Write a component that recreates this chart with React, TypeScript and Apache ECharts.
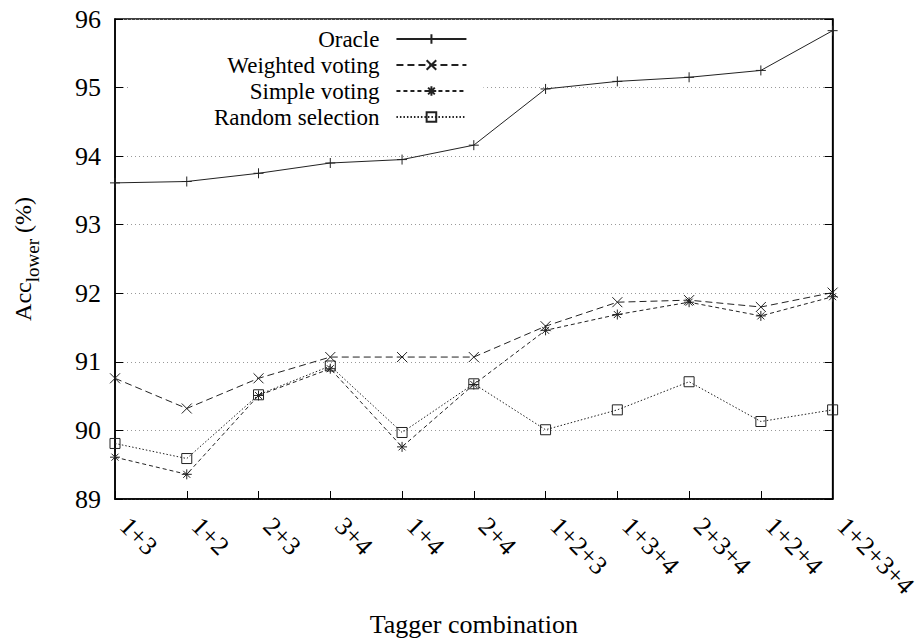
import React, { useEffect, useRef } from "react";
import * as echarts from "echarts";

const categories = ["1+3", "1+2", "2+3", "3+4", "1+4", "2+4", "1+2+3", "1+3+4", "2+3+4", "1+2+4", "1+2+3+4"];
const oracle = [93.61, 93.63, 93.75, 93.9, 93.95, 94.16, 94.98, 95.09, 95.15, 95.25, 95.83];
const weighted = [90.76, 90.32, 90.76, 91.07, 91.07, 91.07, 91.52, 91.87, 91.9, 91.8, 92.01];
const simple = [89.61, 89.36, 90.51, 90.9, 89.76, 90.67, 91.46, 91.69, 91.87, 91.67, 91.95];
const randomSel = [89.81, 89.59, 90.52, 90.94, 89.97, 90.68, 90.01, 90.3, 90.71, 90.13, 90.3];

const FONT = "serif";
const FS = 26;
const INK = "#222";

const SYM_PLUS = "path://M5,0L5,10M0,5L10,5";
const SYM_X = "path://M0,0L10,10M10,0L0,10";
const SYM_STAR = "path://M5,0L5,10M0,5L10,5M1.5,1.5L8.5,8.5M8.5,1.5L1.5,8.5";
const SYM_SQ = "path://M0,0L10,0L10,10L0,10Z";

function mkSeries(name: string, data: number[], symbol: string, size: number, type: any) {
  return {
    name,
    type: "line",
    data,
    symbol,
    symbolSize: size,
    showAllSymbol: true,
    lineStyle: { color: INK, width: 1, type },
    itemStyle: { color: "transparent", borderColor: INK, borderWidth: 1 },
    emphasis: { disabled: true },
  };
}

export default function App() {
  const ref = useRef<HTMLDivElement>(null);
  useEffect(() => {
    document.body.style.margin = "0";
    const chart = echarts.init(ref.current!, null, { renderer: "svg" });
    chart.setOption({
      animation: false,
      backgroundColor: "#fff",
      textStyle: { fontFamily: FONT },
      grid: {
        left: 115,
        right: 73,
        top: 19,
        bottom: 132,
        show: true,
        borderColor: "#000",
        borderWidth: 1.5,
        backgroundColor: "transparent",
      },
      legend: {
        orient: "vertical",
        align: "right",
        left: 130,
        top: 23,
        padding: [3, 16, 6, 84],
        backgroundColor: "#fff",
        itemWidth: 70,
        itemHeight: 12,
        itemGap: 0,
        textStyle: { fontFamily: FONT, fontSize: 23, lineHeight: 26, color: "#000", padding: [0, 12, 0, 0] },
        data: ["Oracle", "Weighted voting", "Simple voting", "Random selection"],
      },
      xAxis: {
        type: "category",
        data: categories,
        boundaryGap: false,
        name: "Tagger combination",
        nameLocation: "middle",
        nameGap: 112,
        nameTextStyle: { fontFamily: FONT, fontSize: FS, color: "#000" },
        axisLine: { lineStyle: { color: "#000", width: 1.5 } },
        axisTick: { inside: true, length: 8, lineStyle: { color: "#000" } },
        axisLabel: {
          rotate: -45,
          fontFamily: FONT,
          fontSize: FS,
          color: "#000",
          margin: 32,
          verticalAlign: "bottom",
          interval: 0,
        },
        splitLine: { show: false },
      },
      yAxis: [
        {
          type: "value",
          min: 89,
          max: 96,
          interval: 1,
          name: "{a|Acc}{b|lower}{a| (%)}",
          nameLocation: "middle",
          nameGap: 80,
          nameRotate: 90,
          nameTextStyle: {
            rich: {
              a: { fontFamily: FONT, fontSize: 24, color: "#000", lineHeight: 30, verticalAlign: "bottom" },
              b: { fontFamily: FONT, fontSize: 19, color: "#000", lineHeight: 19, verticalAlign: "bottom", padding: [0, 0, -7, 0] },
            },
          },
          axisLine: { show: true, lineStyle: { color: "#000", width: 1.5 } },
          axisTick: { show: true, inside: true, length: 8, lineStyle: { color: "#000" } },
          axisLabel: { fontFamily: FONT, fontSize: FS, color: "#000", margin: 14 },
          splitLine: {
            show: true,
            lineStyle: { color: "#999", type: [1, 3], width: 1 },
          },
        },
        {
          type: "value",
          min: 89,
          max: 96,
          interval: 1,
          position: "right",
          axisLine: { show: true, lineStyle: { color: "#000", width: 1.5 } },
          axisTick: { show: true, inside: true, length: 8, lineStyle: { color: "#000" } },
          axisLabel: { show: false },
          splitLine: { show: false },
        },
      ],
      series: [
        mkSeries("Oracle", oracle, SYM_PLUS, 10, "solid"),
        mkSeries("Weighted voting", weighted, SYM_X, 10, [7, 4]),
        mkSeries("Simple voting", simple, SYM_STAR, 10, [4, 3]),
        mkSeries("Random selection", randomSel, SYM_SQ, 10, [1.5, 2]),
      ],
    });
    return () => chart.dispose();
  }, []);
  return <div ref={ref} style={{ width: 921, height: 642 }} />;
}
